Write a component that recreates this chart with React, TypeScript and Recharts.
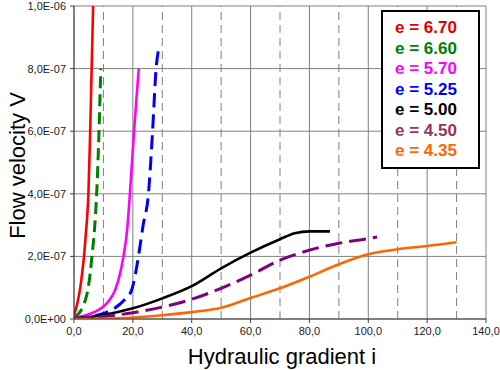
import React from 'react';
import { LineChart, Line, XAxis, YAxis, CartesianGrid, ReferenceLine } from 'recharts';

// [hydraulic gradient i, flow velocity V]
const e670: [number, number][] = [[0, 0.12e-7], [1, 0.45e-7], [2, 0.93e-7], [3, 1.65e-7], [3.4, 2.0e-7], [4, 2.7e-7], [4.5, 3.3e-7], [4.9, 4.0e-7], [5.5, 6.0e-7], [6.0, 8.0e-7], [6.5, 10.0e-7]];
const e660: [number, number][] = [[0, 0.05e-7], [1, 0.12e-7], [2, 0.22e-7], [3, 0.4e-7], [4, 0.65e-7], [4.7, 0.93e-7], [5.5, 1.45e-7], [6.1, 2.0e-7], [7.0, 2.9e-7], [7.7, 4.0e-7], [8.5, 6.0e-7], [9.1, 8.0e-7]];
const e570: [number, number][] = [[0, 0.03e-7], [5, 0.15e-7], [10, 0.4e-7], [12, 0.6e-7], [14, 0.93e-7], [16, 1.6e-7], [16.8, 2.0e-7], [18, 2.8e-7], [19, 4.0e-7], [20.4, 6.0e-7], [22, 8.0e-7]];
const e525: [number, number][] = [[0, 0.02e-7], [5, 0.06e-7], [10, 0.18e-7], [14.5, 0.39e-7], [17, 0.6e-7], [19.6, 0.93e-7], [20.8, 1.4e-7], [21.9, 2.0e-7], [23.5, 3.0e-7], [25.3, 4.0e-7], [26.7, 6.0e-7], [27.9, 8.0e-7], [28.7, 8.6e-7]];
const e500: [number, number][] = [[0, 0.02e-7], [10, 0.13e-7], [20, 0.34e-7], [30, 0.66e-7], [40, 1.05e-7], [50, 1.62e-7], [60, 2.12e-7], [70, 2.55e-7], [75, 2.74e-7], [80, 2.8e-7], [87, 2.8e-7]];
const e450: [number, number][] = [[0, 0.01e-7], [10, 0.08e-7], [20, 0.2e-7], [30, 0.38e-7], [40, 0.63e-7], [50, 0.98e-7], [60, 1.4e-7], [70, 1.88e-7], [80, 2.2e-7], [90, 2.42e-7], [100, 2.57e-7], [103, 2.62e-7]];
const e435: [number, number][] = [[0, 0.0], [10, 0.01e-7], [20, 0.05e-7], [30, 0.12e-7], [40, 0.22e-7], [50, 0.36e-7], [60, 0.67e-7], [70, 0.98e-7], [80, 1.35e-7], [90, 1.75e-7], [100, 2.07e-7], [110, 2.23e-7], [120, 2.33e-7], [130, 2.45e-7]];

const xTicks = [0, 20, 40, 60, 80, 100, 120, 140];
const xTickLabels = ['0,0', '20,0', '40,0', '60,0', '80,0', '100,0', '120,0', '140,0'];
const xMinor = [10, 30, 50, 70, 90, 110, 130];
const yTicks = [0, 2e-7, 4e-7, 6e-7, 8e-7, 1e-6];
const yTickLabels = ['0,0E+00', '2,0E-07', '4,0E-07', '6,0E-07', '8,0E-07', '1,0E-06'];

const series = [
  { name: 'e = 6.70', data: e670, color: '#ff0000', legend: '#e00000', dash: undefined, w: 2.6 },
  { name: 'e = 6.60', data: e660, color: '#008000', legend: '#008000', dash: '12 6', w: 3 },
  { name: 'e = 5.70', data: e570, color: '#ff00ff', legend: '#ff00ff', dash: undefined, w: 2.6 },
  { name: 'e = 5.25', data: e525, color: '#0000ff', legend: '#0000ff', dash: '14 7', w: 3 },
  { name: 'e = 5.00', data: e500, color: '#000000', legend: '#000000', dash: undefined, w: 2.6 },
  { name: 'e = 4.50', data: e450, color: '#800080', legend: '#993366', dash: '17 7', w: 3 },
  { name: 'e = 4.35', data: e435, color: '#ff6600', legend: '#ff6600', dash: undefined, w: 2.6 },
];

const font = '"Liberation Sans", Arial, sans-serif';

export default function App() {
  return (
    <div style={{ position: 'absolute', left: 0, top: 0, width: 500, height: 370, background: '#fff', fontFamily: font }}>
      <LineChart width={500} height={370} margin={{ top: 6, right: 14, bottom: 21, left: 14 }}>
        <CartesianGrid stroke="#808080" strokeWidth={1} />
        {xMinor.map((x) => (
          <ReferenceLine key={x} x={x} stroke="#808080" strokeDasharray="8 5" strokeWidth={1} />
        ))}
        <XAxis
          type="number"
          dataKey="i"
          domain={[0, 140]}
          ticks={xTicks}
          tickFormatter={(v: number, idx: number) => xTickLabels[idx]}
          tick={{ fontSize: 11, fill: '#222', fontFamily: font }}
          tickSize={4}
          tickMargin={4}
          height={30}
          stroke="#404040"
          allowDataOverflow
          label={(props: any) => {
            const vb = props.viewBox || { x: 74, y: 319, width: 412 };
            return (
              <text x={vb.x + vb.width / 2 + 2} y={364} textAnchor="middle" fontSize={22} fontFamily={font} fill="#000">
                Hydraulic gradient i
              </text>
            );
          }}
        />
        <YAxis
          type="number"
          domain={[0, 1e-6]}
          ticks={yTicks}
          tickFormatter={(v: number, idx: number) => yTickLabels[idx]}
          tick={{ fontSize: 11, fill: '#222', fontFamily: font }}
          tickSize={4}
          tickMargin={4}
          width={60}
          stroke="#404040"
          allowDataOverflow
          label={(props: any) => {
            const vb = props.viewBox || { x: 14, y: 6, height: 313 };
            const cy = vb.y + vb.height / 2 + 3;
            return (
              <text x={25} y={cy} transform={`rotate(-90 25 ${cy})`} textAnchor="middle" fontSize={22} fontFamily={font} fill="#000">
                Flow velocity V
              </text>
            );
          }}
        />
        {series.map((s) => (
          <Line
            key={s.name}
            data={s.data.map(([i, v]) => ({ i, v }))}
            dataKey="v"
            type="monotone"
            stroke={s.color}
            strokeWidth={s.w}
            strokeDasharray={s.dash}
            dot={false}
            activeDot={false}
            isAnimationActive={false}
          />
        ))}
      </LineChart>
      <div
        style={{
          position: 'absolute',
          left: 381,
          top: 10,
          boxSizing: 'content-box',
          border: '2px solid #000',
          background: '#fff',
          padding: '6px 0 5px 12px',
          width: 83,
        }}
      >
        {series.map((s) => (
          <div key={s.name} style={{ color: s.legend, fontWeight: 'bold', fontSize: 17, lineHeight: '20.5px', whiteSpace: 'nowrap', fontFamily: font }}>
            {s.name}
          </div>
        ))}
      </div>
    </div>
  );
}
